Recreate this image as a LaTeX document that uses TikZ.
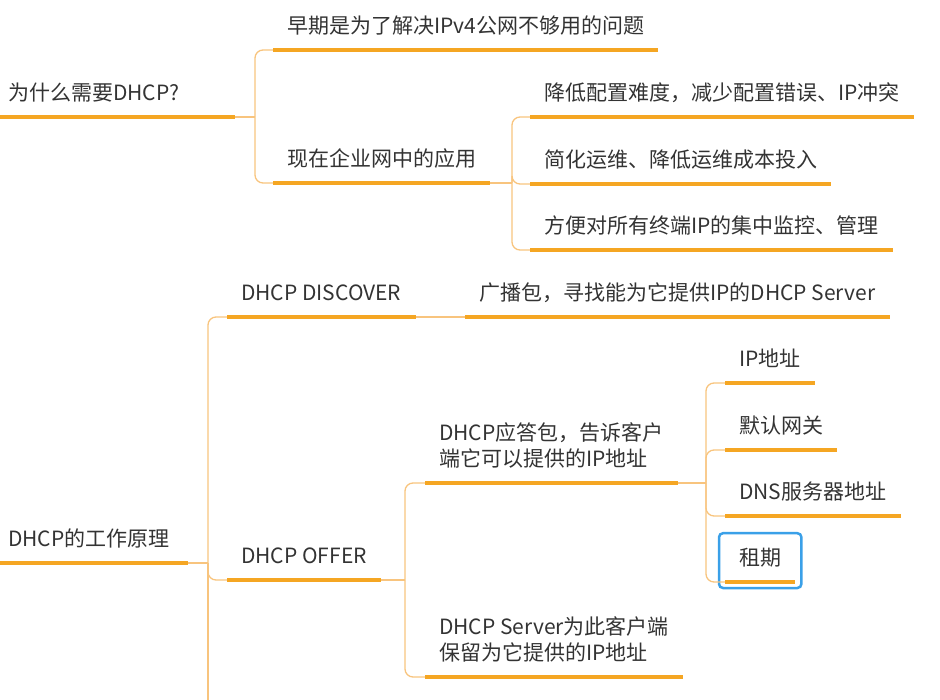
\documentclass[tikz,border=0pt]{standalone}
\usepackage{fontspec}
\usepackage{tikz}
\usetikzlibrary{positioning,fit,calc}
\newfontfamily\cjk{Noto Sans CJK SC}
\definecolor{Ink}{HTML}{333333}
\definecolor{Orange}{HTML}{F5A623}
\definecolor{Branch}{HTML}{F8C47E}
\definecolor{Select}{HTML}{3AA0E8}
\tikzset{
  topic/.style={anchor=south west, font=\cjk\fontsize{21}{26}\selectfont, text=Ink, align=left, inner xsep=14pt, inner ysep=9pt, text depth=7pt},
  root/.style={topic, inner xsep=8pt, text width=#1},
  uline/.style={draw=Orange, line width=3.5pt},
  link/.style={draw=Branch, line width=1.3pt, rounded corners=8pt},
  selbox/.style={draw=Select, line width=2.5pt, rounded corners=4pt, inner sep=6pt}
}

\begin{document}
\begin{tikzpicture}[x=1pt, y=-1pt]
  \useasboundingbox (0,0) rectangle (940,700);
  % why DHCP
  \node[root=219pt] (why) at (0,117) {为什么需要DHCP?};
  \node[topic] (early) at (273,50) {早期是为了解决IPv4公网不够用的问题};
  \node[topic] (now) at (273,183) {现在企业网中的应用};
  \node[topic] (ease) at (530,117) {降低配置难度，减少配置错误、IP冲突};
  \node[topic] (simple) at (530,184) {简化运维、降低运维成本投入};
  \node[topic] (monitor) at (530,250) {方便对所有终端IP的集中监控、管理};
  % how DHCP works
  \node[root=172pt] (work) at (0,563) {DHCP的工作原理};
  \node[topic] (disc) at (227,317) {DHCP DISCOVER};
  \node[topic] (bcast) at (465,317) {广播包，寻找能为它提供IP的DHCP Server};
  \node[topic] (offer) at (227,580) {DHCP OFFER};
  \node[topic] (reply) at (425,483) {DHCP应答包，告诉客户\\端它可以提供的IP地址};
  \node[topic] (keep) at (425,677) {DHCP Server为此客户端\\保留为它提供的IP地址};
  \node[topic] (ipaddr) at (725,383) {IP地址};
  \node[topic] (gw) at (725,450) {默认网关};
  \node[topic] (dns) at (725,516) {DNS服务器地址};
  \node[topic] (lease) at (725,582) {租期};
  \node[selbox, fit=(lease)] (sel) {};
  % branches
  \coordinate (whyj) at ($(early.south west |- why.south east)+(-18,0)$);
  \coordinate (nowj) at ($(ease.south west |- now.south east)+(-18,0)$);
  \coordinate (workj) at ($(disc.south west |- work.south east)+(-19,0)$);
  \coordinate (offerj) at ($(reply.south west |- offer.south east)+(-20,0)$);
  \coordinate (replyj) at ($(ipaddr.south west |- reply.south east)+(-19,0)$);
  \coordinate (bottom) at (0,700);
  \draw[link] (why.south east) -- (whyj);
  \draw[link] (whyj) |- (early.south west);
  \draw[link] (whyj) |- (now.south west);
  \draw[link] (now.south east) -- (nowj);
  \draw[link] (nowj) |- (ease.south west);
  \draw[link] (nowj) |- (simple.south west);
  \draw[link] (nowj) |- (monitor.south west);
  \draw[link] (work.south east) -- (workj);
  \draw[link] (workj) |- (disc.south west);
  \draw[link] (workj) |- (offer.south west);
  \draw[link] (workj) -- (workj |- bottom);
  \draw[link] (disc.south east) -- (bcast.south west);
  \draw[link] (offer.south east) -- (offerj);
  \draw[link] (offerj) |- (reply.south west);
  \draw[link] (offerj) |- (keep.south west);
  \draw[link] (reply.south east) -- (replyj);
  \draw[link] (replyj) |- (ipaddr.south west);
  \draw[link] (replyj) |- (gw.south west);
  \draw[link] (replyj) |- (dns.south west);
  \draw[link] (replyj) |- (lease.south west);
  % underlines
  \draw[uline] (why.south west) -- (why.south east);
  \draw[uline] (early.south west) -- (early.south east);
  \draw[uline] (now.south west) -- (now.south east);
  \draw[uline] (ease.south west) -- (ease.south east);
  \draw[uline] (simple.south west) -- (simple.south east);
  \draw[uline] (monitor.south west) -- (monitor.south east);
  \draw[uline] (work.south west) -- (work.south east);
  \draw[uline] (disc.south west) -- (disc.south east);
  \draw[uline] (bcast.south west) -- (bcast.south east);
  \draw[uline] (offer.south west) -- (offer.south east);
  \draw[uline] (reply.south west) -- (reply.south east);
  \draw[uline] (keep.south west) -- (keep.south east);
  \draw[uline] (ipaddr.south west) -- (ipaddr.south east);
  \draw[uline] (gw.south west) -- (gw.south east);
  \draw[uline] (dns.south west) -- (dns.south east);
  \draw[uline] (lease.south west) -- (lease.south east);
\end{tikzpicture}
\end{document}
